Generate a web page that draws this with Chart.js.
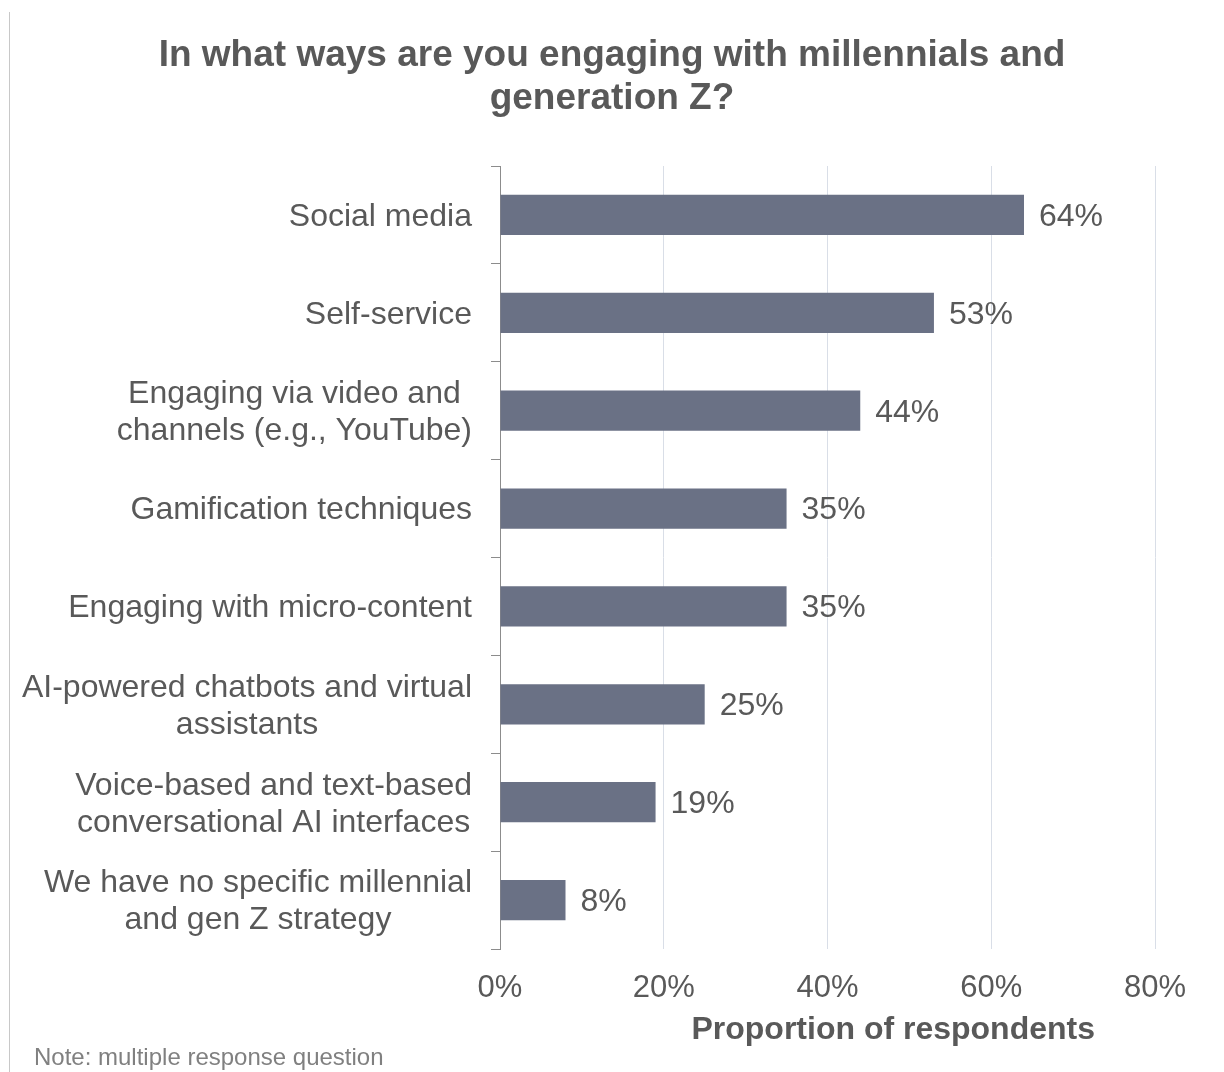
<!DOCTYPE html>
<html>
<head>
<meta charset="utf-8">
<title>Engaging with millennials and generation Z</title>
<script src="https://cdn.jsdelivr.net/npm/chart.js@4/dist/chart.umd.min.js"></script>
<style>
  html, body { margin: 0; padding: 0; background: #fff; }
  #wrap { position: relative; width: 1224px; height: 1072px; }
</style>
</head>
<body>
<div id="wrap"><canvas id="engageChart"></canvas></div>
<script>
/* ── DATA ───────────────────────────────────── */
const categories = [
    ['Social media'],
    ['Self-service'],
    ['Engaging via video and', 'channels (e.g., YouTube)'],
    ['Gamification techniques'],
    ['Engaging with micro-content'],
    ['AI-powered chatbots and virtual', 'assistants'],
    ['Voice-based and text-based', 'conversational AI interfaces'],
    ['We have no specific millennial', 'and gen Z strategy']
];
const shares = [64, 53, 44, 35, 35, 25, 19, 8];
const xTicks = [0, 20, 40, 60, 80];

const titleLines = ['In what ways are you engaging with millennials and', 'generation Z?'];
const xAxisTitle = 'Proportion of respondents';
const noteText = 'Note: multiple response question';

/* ── STYLE ──────────────────────────────────── */
const FONT = "'Liberation Sans', Arial, Helvetica, sans-serif";
const textGrey = '#595959';
const barColor = '#6a7185';

Chart.defaults.font.family = FONT;
Chart.defaults.color = textGrey;

// category labels: block right-aligned to the axis, lines centred within it
const categoryLabels = {
    id: 'categoryLabels',
    afterDraw(chart) {
        const { ctx, chartArea, scales: { y } } = chart;
        ctx.save();
        ctx.font = `32px ${FONT}`;
        ctx.fillStyle = textGrey;
        ctx.textAlign = 'center';
        ctx.textBaseline = 'middle';
        const right = chartArea.left - 28;
        const lh = 37;
        categories.forEach((lines, i) => {
            const cy = y.getPixelForValue(i) + 2;
            const w = Math.max(...lines.map(l => ctx.measureText(l).width));
            const cx = right - w / 2;
            lines.forEach((line, j) => {
                ctx.fillText(line, cx, cy + (j - (lines.length - 1) / 2) * lh);
            });
        });
        ctx.restore();
    }
};

// chart title, value labels, axis title, footnote, left frame line
const extras = {
    id: 'extras',
    beforeDraw(chart) {
        const { ctx, width, height } = chart;
        ctx.save();
        ctx.strokeStyle = '#c8c8c8';
        ctx.lineWidth = 1;
        ctx.beginPath();
        ctx.moveTo(9.5, 12);
        ctx.lineTo(9.5, height);
        ctx.stroke();

        ctx.fillStyle = textGrey;
        ctx.font = `bold 37px ${FONT}`;
        ctx.textAlign = 'center';
        ctx.textBaseline = 'middle';
        titleLines.forEach((line, i) => ctx.fillText(line, width / 2, 56 + i * 43));
        ctx.restore();
    },
    afterDraw(chart) {
        const { ctx, chartArea } = chart;
        const meta = chart.getDatasetMeta(0);
        ctx.save();
        ctx.fillStyle = textGrey;
        ctx.textBaseline = 'middle';
        ctx.textAlign = 'left';
        ctx.font = `32px ${FONT}`;
        meta.data.forEach((bar, i) => {
            ctx.fillText(shares[i] + '%', bar.x + 15, bar.y + 2);
        });

        ctx.font = `bold 32px ${FONT}`;
        ctx.textAlign = 'right';
        ctx.fillText(xAxisTitle, chartArea.right - 60, 1030);

        ctx.font = `24px ${FONT}`;
        ctx.fillStyle = '#808080';
        ctx.textAlign = 'left';
        ctx.fillText(noteText, 34, 1058);
        ctx.restore();
    }
};

new Chart(document.getElementById('engageChart'), {
    type: 'bar',
    data: {
        labels: categories,
        datasets: [{
            data: shares,
            backgroundColor: barColor,
            borderWidth: 0,
            barPercentage: 0.41,
            categoryPercentage: 1
        }]
    },
    options: {
        indexAxis: 'y',
        responsive: true,
        maintainAspectRatio: false,
        animation: false,
        layout: { padding: { top: 166, right: 69 } },
        plugins: {
            legend: { display: false },
            tooltip: { enabled: false },
            title: { display: false }
        },
        scales: {
            x: {
                min: xTicks[0],
                max: xTicks[xTicks.length - 1],
                afterBuildTicks(s) { s.ticks = xTicks.map(v => ({ value: v })); },
                afterFit(s) { s.height = 123; },
                ticks: {
                    callback: v => v + '%',
                    font: { size: 31 },
                    color: textGrey,
                    padding: 21,
                    maxRotation: 0
                },
                grid: { color: '#d9dee7', drawTicks: false },
                border: { display: false }
            },
            y: {
                afterFit(s) { s.width = 500; },
                ticks: { display: false },
                grid: {
                    offset: true,
                    drawOnChartArea: false,
                    tickLength: 9,
                    color: '#8c8c8c'
                },
                border: { color: '#8c8c8c' }
            }
        }
    },
    plugins: [categoryLabels, extras]
});
</script>
</body>
</html>
